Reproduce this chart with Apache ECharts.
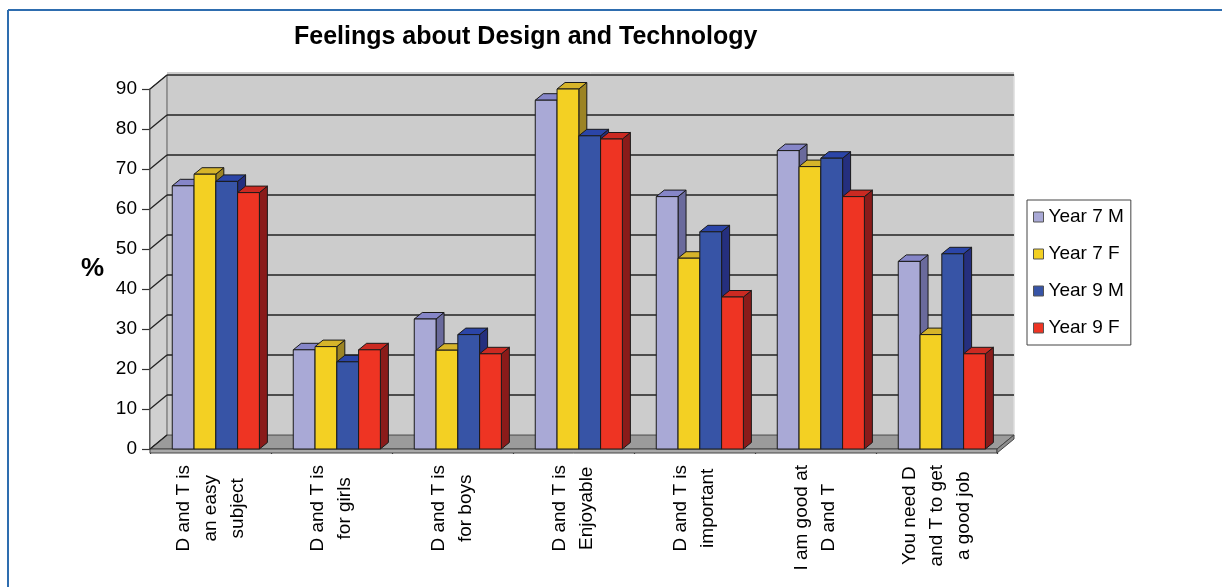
<!DOCTYPE html>
<html><head><meta charset="utf-8">
<script src="https://cdn.jsdelivr.net/npm/echarts@6/dist/echarts.min.js"></script>
<style>html,body{margin:0;padding:0;background:#fff}#c{width:1222px;height:587px}</style>
</head><body><div id="c"></div>
<script>
// ---- data ----
const categories = [
  'D and T is\nan easy\nsubject',
  'D and T is\nfor girls',
  'D and T is\nfor boys',
  'D and T is\nEnjoyable',
  'D and T is\nimportant',
  'I am good at\nD and T',
  'You need D\nand T to get\na good job'
];
const seriesNames = ['Year 7 M', 'Year 7 F', 'Year 9 M', 'Year 9 F'];
const year7M = [65.8, 24.8, 32.5, 87.2, 63.1, 74.6, 46.9];
const year7F = [68.7, 25.6, 24.7, 90.0, 47.7, 70.6, 28.6];
const year9M = [66.9, 21.8, 28.6, 78.3, 54.3, 72.7, 48.8];
const year9F = [64.1, 24.8, 23.8, 77.5, 38.0, 63.1, 23.8];
const yTicks = [0, 10, 20, 30, 40, 50, 60, 70, 80, 90];
const titleText = 'Feelings about Design and Technology';

// ---- style ----
const frontColors = ['#A9A9D6', '#F3D023', '#3754A6', '#EE3423'];
const topColors   = ['#8686C8', '#D6B42A', '#2B45A8', '#CB2A22'];
const sideColors  = ['#6A6A9C', '#9C8424', '#252F7E', '#8A1B1A'];
const WDX = 17, WDY = 14;      // wall depth offset
const BDX = 8, BDY = 6.5;      // bar depth offset
const SLAB = 4;                // floor thickness
const BAR_START = -0.316, BAR_W = 0.18;

const allSeries = [year7M, year7F, year9M, year9F];

function renderWalls(params, api) {
  const cs = params.coordSys;
  const x0 = cs.x, x1 = cs.x + cs.width;
  const yb = api.coord([0, yTicks[0]])[1];
  const yt = api.coord([0, yTicks[yTicks.length - 1]])[1];
  const ch = [];
  ch.push({type: 'polygon', shape: {points: [[x0 + WDX, yt - WDY], [x1 + WDX, yt - WDY], [x1 + WDX, yb - WDY], [x0 + WDX, yb - WDY]]},
    style: {fill: '#cccccc', stroke: '#dddddd', lineWidth: 1.5}});
  ch.push({type: 'line', shape: {x1: x0 + WDX, y1: yt - WDY - 2, x2: x1 + WDX, y2: yt - WDY - 2},
    style: {stroke: '#9a9a9a', lineWidth: 1}});
  ch.push({type: 'polygon', shape: {points: [[x0, yt], [x0 + WDX, yt - WDY], [x0 + WDX, yb - WDY], [x0, yb]]},
    style: {fill: '#d0d0d0', stroke: '#555', lineWidth: 1}});
  ch.push({type: 'polygon', shape: {points: [[x0, yb], [x1, yb], [x1 + WDX, yb - WDY], [x0 + WDX, yb - WDY]]},
    style: {fill: '#9b9b9b', stroke: '#444', lineWidth: 1}});
  ch.push({type: 'rect', shape: {x: x0, y: yb, width: x1 - x0, height: SLAB},
    style: {fill: '#a9a9a9', stroke: '#444', lineWidth: 1}});
  ch.push({type: 'polygon', shape: {points: [[x1, yb], [x1 + WDX, yb - WDY], [x1 + WDX, yb - WDY + SLAB], [x1, yb + SLAB]]},
    style: {fill: '#8e8e8e', stroke: '#444', lineWidth: 1}});
  yTicks.forEach(function (v) {
    const y = api.coord([0, v])[1];
    if (v > 0) {
      ch.push({type: 'line', shape: {x1: x0 + WDX, y1: y - WDY, x2: x1 + WDX, y2: y - WDY},
        style: {stroke: '#222', lineWidth: 1.6}});
    }
    ch.push({type: 'line', shape: {x1: x0, y1: y, x2: x0 + WDX, y2: y - WDY},
      style: {stroke: '#222', lineWidth: 1.3}});
  });
  return {type: 'group', children: ch};
}

function makeBarRenderer(k) {
  return function (params, api) {
    const ci = api.value(0), v = api.value(1);
    const base = api.coord([ci, 0]);
    const topP = api.coord([ci, v]);
    const cw = api.size([1, 0])[0];
    const bw = cw * BAR_W;
    const xl = base[0] + cw * BAR_START + k * bw;
    const xr = xl + bw;
    const yt = topP[1], yb = base[1];
    const st = {stroke: '#1a1a1a', lineWidth: 1};
    return {type: 'group', children: [
      {type: 'polygon', shape: {points: [[xr, yb], [xr + BDX, yb - BDY], [xr + BDX, yt - BDY], [xr, yt]]},
        style: Object.assign({fill: sideColors[k]}, st)},
      {type: 'polygon', shape: {points: [[xl, yt], [xr, yt], [xr + BDX, yt - BDY], [xl + BDX, yt - BDY]]},
        style: Object.assign({fill: topColors[k]}, st)},
      {type: 'rect', shape: {x: xl, y: yt, width: bw, height: yb - yt},
        style: Object.assign({fill: frontColors[k]}, st)}
    ]};
  };
}

const series = [{
  type: 'custom', name: '_walls', z: 1, clip: false, silent: true,
  renderItem: renderWalls, data: [[0, 0]], tooltip: {show: false}
}];
allSeries.forEach(function (vals, k) {
  series.push({
    type: 'custom', name: seriesNames[k], z: 3, clip: false,
    itemStyle: {color: frontColors[k], borderColor: '#333', borderWidth: 1},
    renderItem: makeBarRenderer(k),
    data: vals.map(function (v, i) { return [i, v]; })
  });
});

const FONT = 'Liberation Sans, Arial, sans-serif';
const TXT = '#000';
const chart = echarts.init(document.getElementById('c'), null, {renderer: 'canvas'});
chart.setOption({
  animation: false,
  backgroundColor: '#ffffff',
  title: {text: titleText, left: 289, top: 20,
    textStyle: {fontFamily: FONT, fontSize: 25, fontWeight: 'bold', color: TXT}},
  grid: {left: 150, top: 89, width: 847, height: 360, containLabel: false},
  xAxis: {
    type: 'category', data: categories, offset: SLAB,
    axisLine: {show: true, lineStyle: {color: '#333', width: 1.5}},
    axisTick: {show: true, length: 5, interval: 0, lineStyle: {color: '#333', width: 1.2}},
    axisLabel: {
      interval: 0, rotate: 90, margin: 12, color: TXT, fontFamily: FONT, fontSize: 19,
      formatter: function (s) { return s.split('\n').map(function (l) { return '{c|' + l + '}'; }).join('\n'); },
      rich: {c: {align: 'center', fontFamily: FONT, fontSize: 19, lineHeight: 27, color: TXT}}
    },
    splitLine: {show: false}
  },
  yAxis: {
    type: 'value', min: 0, max: 90, interval: 10,
    name: '%', nameLocation: 'middle', nameGap: 46, nameRotate: 0,
    nameTextStyle: {fontFamily: FONT, fontSize: 26, fontWeight: 'bold', color: TXT},
    axisLine: {show: true, lineStyle: {color: '#333', width: 1.5}},
    axisTick: {show: true, length: 8, lineStyle: {color: '#333', width: 1.2}},
    axisLabel: {margin: 13, color: TXT, fontFamily: FONT, fontSize: 19,
      formatter: function (v) { return yTicks.indexOf(v) >= 0 ? String(v) : ''; }},
    splitLine: {show: false}
  },
  legend: {
    data: seriesNames, orient: 'vertical', left: 1027, top: 200,
    padding: [7, 7, 7, 6], itemGap: 17, itemWidth: 10, itemHeight: 10, icon: 'rect',
    borderColor: '#444', borderWidth: 1, backgroundColor: '#fff',
    itemStyle: {borderColor: '#555', borderWidth: 1},
    textStyle: {fontFamily: FONT, fontSize: 19, lineHeight: 20, color: TXT},
    selectedMode: false
  },
  graphic: [
    {type: 'line', shape: {x1: 8, y1: 10, x2: 1222, y2: 10}, style: {stroke: '#2E6DAF', lineWidth: 2}},
    {type: 'line', shape: {x1: 8, y1: 10, x2: 8, y2: 587}, style: {stroke: '#2E6DAF', lineWidth: 2}}
  ],
  series: series
});
</script>
</body></html>
